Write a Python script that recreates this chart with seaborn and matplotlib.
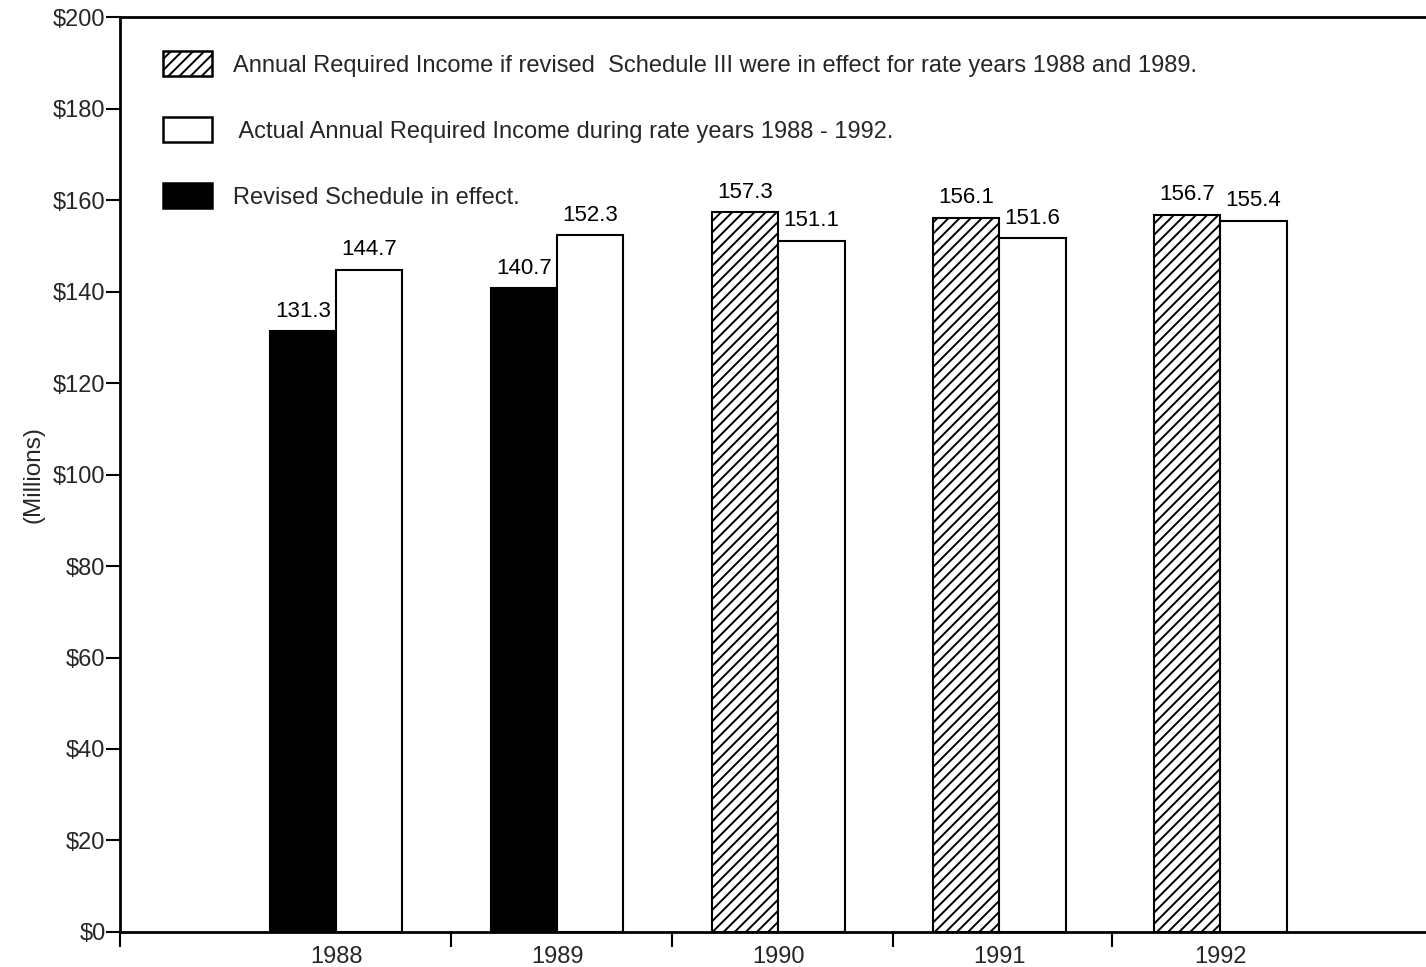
import matplotlib
matplotlib.use("Agg")
import matplotlib.pyplot as plt
from matplotlib.patches import Patch
import seaborn as sns
import pandas as pd

# Rate-year data (millions of dollars)
years = ["1988", "1989", "1990", "1991", "1992"]
revised_income = [131.3, 140.7, 157.3, 156.1, 156.7]
actual_income = [144.7, 152.3, 151.1, 151.6, 155.4]
revised_in_effect = [True, True, False, False, False]

y_ticks = [0, 20, 40, 60, 80, 100, 120, 140, 160, 180, 200]
y_tick_labels = ["$" + str(v) for v in y_ticks]

legend_labels = [
    "Annual Required Income if revised  Schedule III were in effect for rate years 1988 and 1989.",
    " Actual Annual Required Income during rate years 1988 - 1992.",
    "Revised Schedule in effect.",
]

df = pd.DataFrame({
    "year": years * 2,
    "income": revised_income + actual_income,
    "series": ["revised"] * len(years) + ["actual"] * len(years),
})

sns.set_theme(style="white")
plt.rcParams["font.family"] = ["Liberation Sans", "DejaVu Sans"]
plt.rcParams["hatch.linewidth"] = 1.4
plt.rcParams["hatch.color"] = "black"

fig = plt.figure(figsize=(14.26, 9.67), dpi=100)
ax = fig.add_axes([0.0842, 0.0362, 0.9158, 0.9462])

sns.barplot(data=df, x="year", y="income", hue="series",
            hue_order=["revised", "actual"], order=years,
            palette=["white", "white"], width=0.6, dodge=True,
            edgecolor="black", linewidth=1.5, saturation=1,
            legend=False, errorbar=None, ax=ax)

# Revised-schedule bars: solid where the schedule was in effect, hatched otherwise
for bar, in_effect in zip(ax.containers[0], revised_in_effect):
    if in_effect:
        bar.set_facecolor("black")
    else:
        bar.set_facecolor("white")
        bar.set_hatch("///")
for bar in ax.containers[1]:
    bar.set_facecolor("white")

for cont in ax.containers:
    ax.bar_label(cont, fmt="%.1f", padding=7, fontsize=16, color="black")

ax.set_ylim(0, 200)
ax.set_xlim(-0.977, 4.93)
ax.set_yticks(y_ticks)
ax.set_yticklabels(y_tick_labels, fontsize=17)
ax.set_ylabel("(Millions)", fontsize=17.5, labelpad=6)
ax.set_xlabel("")

# Major x ticks mark category boundaries, minor ticks carry the year labels
ax.set_xticks([-0.977, 0.52, 1.52, 2.52, 3.51])
ax.set_xticklabels([])
ax.set_xticks(range(len(years)), minor=True)
ax.set_xticklabels(years, minor=True, fontsize=17)
ax.tick_params(axis="x", which="major", direction="out", length=11, width=1.5,
               bottom=True, color="black")
ax.tick_params(axis="x", which="minor", length=0, pad=10)
ax.tick_params(axis="y", direction="out", length=10, width=1.5, left=True,
               color="black", pad=0.5)

for side in ["left", "bottom", "top"]:
    ax.spines[side].set_visible(True)
    ax.spines[side].set_color("black")
    ax.spines[side].set_linewidth(2)
ax.spines["right"].set_visible(False)

handles = [
    Patch(facecolor="white", edgecolor="black", hatch="///", linewidth=1.8),
    Patch(facecolor="white", edgecolor="black", linewidth=1.8),
    Patch(facecolor="black", edgecolor="black", linewidth=1.8),
]
ax.legend(handles, legend_labels, loc="upper left",
          bbox_to_anchor=(0.033, 0.9625), frameon=False, fontsize=17,
          handlelength=2.05, handleheight=1.25, labelspacing=1.72,
          handletextpad=0.9, borderpad=0, borderaxespad=0)

fig.savefig("out.png", dpi=100, facecolor="white")
